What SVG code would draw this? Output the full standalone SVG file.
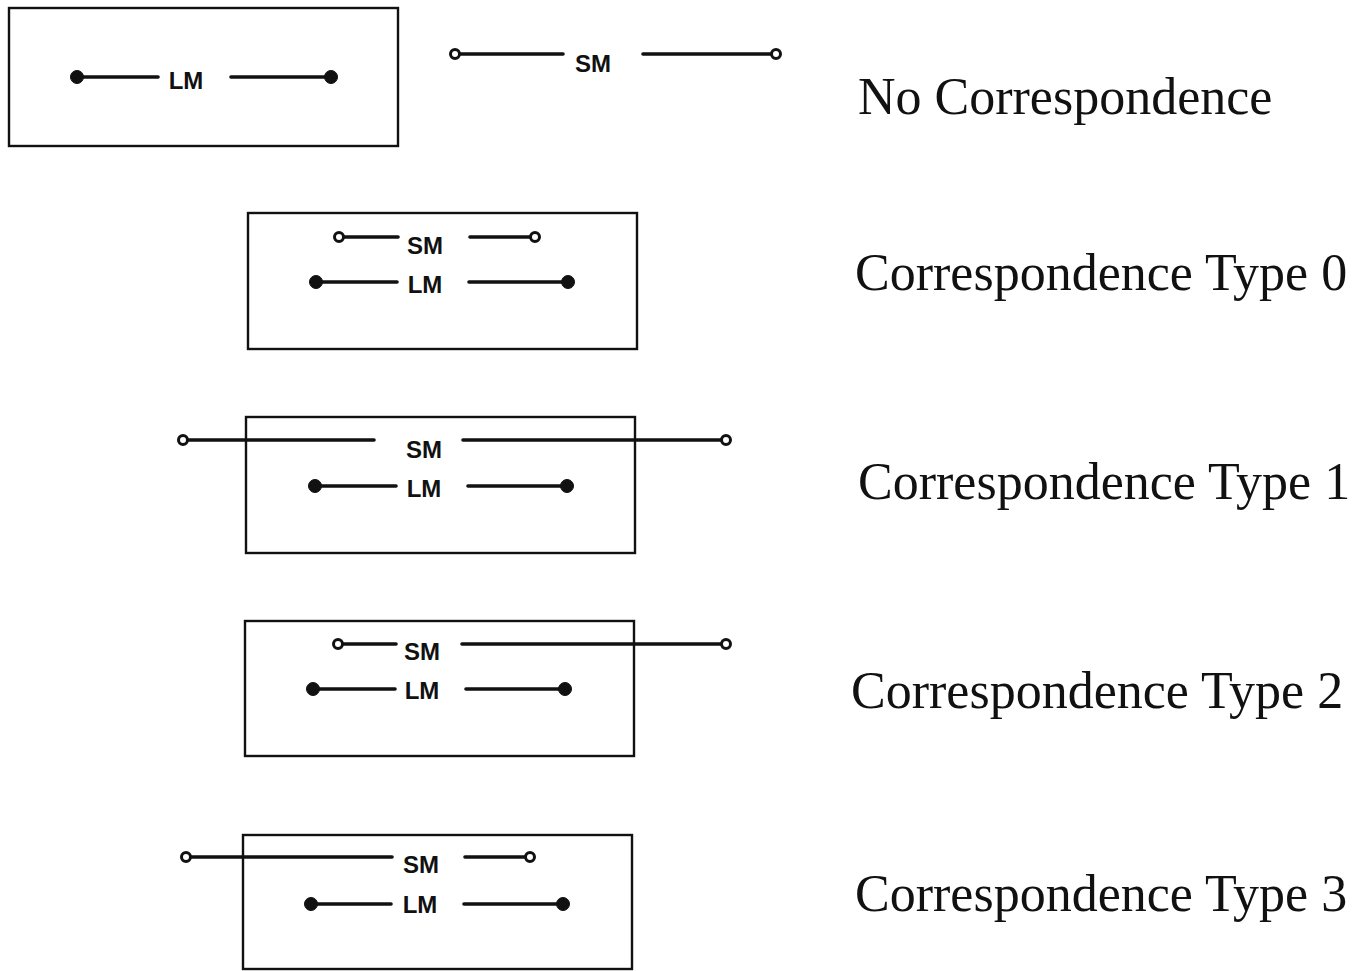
<svg xmlns="http://www.w3.org/2000/svg" width="1365" height="971" viewBox="0 0 1365 971">
  <style>
    .box { fill: none; stroke: #111; stroke-width: 2.4; }
    .seg { stroke: #111; stroke-width: 3.6; stroke-linecap: round; fill: none; }
    .lmEnd { fill: #111; stroke: #111; stroke-width: 1; }
    .smEnd { fill: #fff; stroke: #111; stroke-width: 3; }
    .tag { font-family: "Liberation Sans", Arial, sans-serif; font-weight: bold; font-size: 24px; fill: #111; text-anchor: middle; }
    .caption { font-family: "Liberation Serif", "Times New Roman", serif; font-size: 52px; fill: #111; }
  </style>

  <rect width="1365" height="971" fill="#fff"/>

  <!-- frames -->
  <g id="frame-none"><rect class="box" x="9" y="8" width="389" height="138"/></g>
  <g id="frame-type0"><rect class="box" x="248" y="213" width="389" height="136"/></g>
  <g id="frame-type1"><rect class="box" x="246" y="417" width="389" height="136"/></g>
  <g id="frame-type2"><rect class="box" x="245" y="621" width="389" height="135"/></g>
  <g id="frame-type3"><rect class="box" x="243" y="835" width="389" height="134"/></g>

  <!-- interval segments -->
  <g id="segments">
    <!-- no correspondence -->
    <line class="seg" x1="77" y1="77" x2="158" y2="77"/>
    <line class="seg" x1="231" y1="77" x2="331" y2="77"/>
    <line class="seg" x1="455" y1="54" x2="563" y2="54"/>
    <line class="seg" x1="643" y1="54" x2="776" y2="54"/>
    <!-- type 0 -->
    <line class="seg" x1="339" y1="237" x2="398" y2="237"/>
    <line class="seg" x1="470" y1="237" x2="535" y2="237"/>
    <line class="seg" x1="316" y1="282" x2="397" y2="282"/>
    <line class="seg" x1="469" y1="282" x2="568" y2="282"/>
    <!-- type 1 -->
    <line class="seg" x1="183" y1="440" x2="374" y2="440"/>
    <line class="seg" x1="463" y1="440" x2="726" y2="440"/>
    <line class="seg" x1="315" y1="486" x2="396" y2="486"/>
    <line class="seg" x1="468" y1="486" x2="567" y2="486"/>
    <!-- type 2 -->
    <line class="seg" x1="338" y1="644" x2="396" y2="644"/>
    <line class="seg" x1="462" y1="644" x2="726" y2="644"/>
    <line class="seg" x1="313" y1="689" x2="395" y2="689"/>
    <line class="seg" x1="466" y1="689" x2="565" y2="689"/>
    <!-- type 3 -->
    <line class="seg" x1="186" y1="857" x2="392" y2="857"/>
    <line class="seg" x1="465" y1="857" x2="530" y2="857"/>
    <line class="seg" x1="311" y1="904" x2="391" y2="904"/>
    <line class="seg" x1="464" y1="904" x2="563" y2="904"/>
  </g>

  <!-- segment endpoints -->
  <g id="endpoints">
    <circle class="lmEnd" cx="77" cy="77" r="6.5"/>
    <circle class="lmEnd" cx="331" cy="77" r="6.5"/>
    <circle class="smEnd" cx="455" cy="54" r="4.5"/>
    <circle class="smEnd" cx="776" cy="54" r="4.5"/>

    <circle class="smEnd" cx="339" cy="237" r="4.5"/>
    <circle class="smEnd" cx="535" cy="237" r="4.5"/>
    <circle class="lmEnd" cx="316" cy="282" r="6.5"/>
    <circle class="lmEnd" cx="568" cy="282" r="6.5"/>

    <circle class="smEnd" cx="183" cy="440" r="4.5"/>
    <circle class="smEnd" cx="726" cy="440" r="4.5"/>
    <circle class="lmEnd" cx="315" cy="486" r="6.5"/>
    <circle class="lmEnd" cx="567" cy="486" r="6.5"/>

    <circle class="smEnd" cx="338" cy="644" r="4.5"/>
    <circle class="smEnd" cx="726" cy="644" r="4.5"/>
    <circle class="lmEnd" cx="313" cy="689" r="6.5"/>
    <circle class="lmEnd" cx="565" cy="689" r="6.5"/>

    <circle class="smEnd" cx="186" cy="857" r="4.5"/>
    <circle class="smEnd" cx="530" cy="857" r="4.5"/>
    <circle class="lmEnd" cx="311" cy="904" r="6.5"/>
    <circle class="lmEnd" cx="563" cy="904" r="6.5"/>
  </g>

  <!-- segment names -->
  <g id="tags">
    <text class="tag" x="186" y="89">LM</text>
    <text class="tag" x="593" y="72">SM</text>
    <text class="tag" x="425" y="254">SM</text>
    <text class="tag" x="425" y="293">LM</text>
    <text class="tag" x="424" y="458">SM</text>
    <text class="tag" x="424" y="497">LM</text>
    <text class="tag" x="422" y="660">SM</text>
    <text class="tag" x="422" y="699">LM</text>
    <text class="tag" x="421" y="873">SM</text>
    <text class="tag" x="420" y="913">LM</text>
  </g>

  <!-- captions -->
  <g id="captions">
    <text class="caption" x="858" y="114">No Correspondence</text>
    <text class="caption" x="855" y="290">Correspondence Type 0</text>
    <text class="caption" x="858" y="499">Correspondence Type 1</text>
    <text class="caption" x="851" y="708">Correspondence Type 2</text>
    <text class="caption" x="855" y="911">Correspondence Type 3</text>
  </g>
</svg>
